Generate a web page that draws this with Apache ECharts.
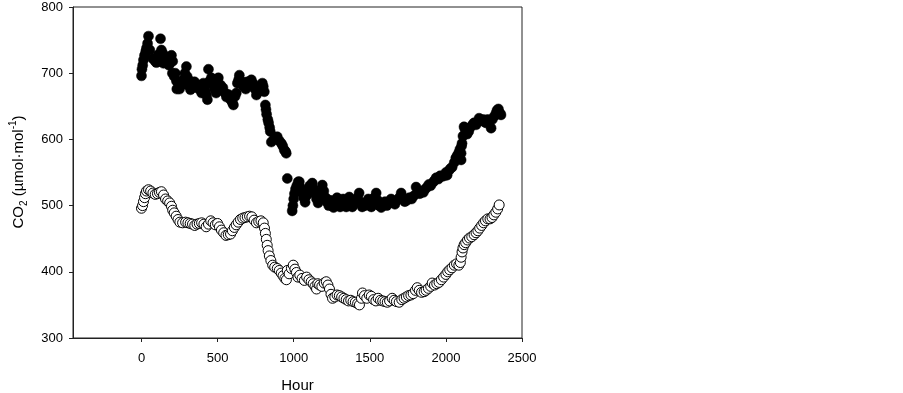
<!DOCTYPE html>
<html>
<head>
<meta charset="utf-8">
<script src="https://cdn.jsdelivr.net/npm/echarts@6/dist/echarts.min.js"></script>
<style>
  html, body { margin: 0; padding: 0; background: #fff; }
  #chart { width: 903px; height: 393px; }
</style>
</head>
<body>
<div id="chart"></div>
<script>
// tick labels
var xTicks = [0, 500, 1000, 1500, 2000, 2500];
var yTicks = [300, 400, 500, 600, 700, 800];

// filled circles [hour, CO2]
var filledPts = [
  [0,696],[3,706],[8,712],[13,720],[20,727],[28,733],[33,738],[40,745],[46,756],[55,735],
  [75,722],[90,718],[98,716],[110,728],[118,724],[125,752],[131,735],[140,730],[144,715],[155,725],
  [165,722],[180,712],[190,716],[197,727],[205,718],[203,700],[215,695],[222,700],[230,688],[232,676],
  [250,676],[262,682],[275,690],[285,700],[295,710],[300,695],[308,690],[315,680],[322,675],[335,684],
  [348,687],[360,678],[372,682],[385,675],[395,670],[407,685],[415,678],[420,672],[427,667],[433,660],
  [440,706],[448,688],[459,693],[470,683],[480,676],[490,670],[505,693],[512,675],[520,682],[535,678],
  [548,670],[558,664],[570,668],[585,660],[598,655],[604,652],[615,665],[623,670],[630,685],[638,690],
  [643,697],[655,688],[670,680],[685,676],[696,687],[708,685],[722,690],[735,684],[745,676],[755,667],
  [765,672],[782,678],[794,685],[800,680],[807,672],[814,652],[818,645],[822,638],[830,630],[835,625],
  [842,618],[846,612],[853,596],[870,600],[885,603],[892,604],[905,598],[919,594],[928,590],[938,584],
  [946,582],[951,579],[958,541],
  [990,492],[995,500],[1000,510],[1005,518],[1012,525],[1020,530],[1030,536],[1037,536],[1045,527],[1055,520],
  [1065,512],[1075,505],[1085,515],[1095,522],[1105,530],[1115,528],[1122,534],[1132,525],[1140,518],[1150,510],
  [1160,504],[1170,516],[1180,520],[1188,531],[1198,522],[1210,512],[1220,505],[1230,500],[1240,508],[1250,500],
  [1262,497],[1275,505],[1285,512],[1295,503],[1305,498],[1315,505],[1325,510],[1335,502],[1345,498],[1355,508],
  [1365,513],[1375,504],[1385,498],[1395,502],[1410,508],[1420,512],[1430,519],[1440,505],[1450,498],[1460,502],
  [1470,500],[1480,505],[1490,510],[1500,502],[1510,498],[1520,505],[1530,512],[1542,519],[1552,508],[1562,500],
  [1575,497],[1588,502],[1600,506],[1612,500],[1625,504],[1640,510],[1652,505],[1665,502],[1680,508],[1694,512],
  [1706,519],[1718,510],[1730,506],[1745,508],[1760,512],[1775,510],[1790,515],[1804,528],[1815,520],[1828,518],
  [1840,522],[1852,520],[1865,525],[1877,528],[1888,532],[1900,530],[1915,535],[1925,538],[1936,542],[1950,540],
  [1962,545],[1975,544],[1990,545],[2000,550],[2008,546],[2020,553],[2030,556],[2041,558],[2055,565],[2065,572],
  [2075,576],[2085,580],[2092,585],[2100,569],[2100,579],[2103,590],[2106,594],[2112,605],[2119,619],[2125,616],
  [2132,610],[2140,608],[2150,612],[2160,618],[2175,622],[2185,625],[2198,622],[2210,627],[2218,632],[2230,628],
  [2245,630],[2257,626],[2264,625],[2275,630],[2285,628],[2297,617],[2305,630],[2318,635],[2330,640],[2336,644],
  [2345,646],[2355,640],[2362,637]
];

// open circles [hour, CO2]
var openPts = [
  [0,496],[7,500],[13,506],[20,512],[26,518],[33,522],[46,524],[60,522],[75,519],[90,517],
  [105,518],[118,520],[131,521],[145,516],[158,510],[172,507],[185,504],[197,499],[205,493],[215,489],
  [228,484],[240,479],[252,475],[270,474],[290,475],[305,474],[320,473],[335,472],[350,470],[365,472],
  [380,473],[395,474],[410,472],[425,468],[440,472],[455,477],[470,474],[485,471],[500,473],[512,468],
  [525,463],[540,459],[555,455],[570,456],[585,457],[597,462],[610,467],[622,471],[635,475],[650,479],
  [665,481],[680,482],[695,483],[710,484],[725,483],[740,478],[755,474],[770,476],[785,477],[800,474],
  [808,466],[814,458],[820,449],[826,440],[832,432],[840,424],[850,417],[862,410],[875,407],[892,405],
  [905,402],[918,398],[930,394],[942,390],[952,388],[958,402],[970,397],[985,405],[997,410],[1008,404],
  [1018,399],[1028,392],[1040,395],[1055,390],[1070,387],[1085,392],[1100,388],[1115,385],[1128,382],[1140,378],
  [1150,374],[1158,382],[1170,380],[1185,378],[1200,383],[1214,385],[1225,380],[1235,374],[1245,366],[1255,360],
  [1270,362],[1285,365],[1300,364],[1315,362],[1330,360],[1345,358],[1360,356],[1375,357],[1390,355],[1405,354],
  [1420,352],[1432,350],[1445,360],[1452,368],[1465,364],[1480,360],[1496,365],[1510,363],[1525,358],[1540,356],
  [1555,360],[1570,357],[1585,356],[1600,355],[1615,354],[1630,356],[1647,360],[1660,357],[1675,355],[1693,354],
  [1710,358],[1725,360],[1740,362],[1755,364],[1770,365],[1785,367],[1800,372],[1812,376],[1825,372],[1840,369],
  [1857,370],[1870,372],[1885,375],[1900,378],[1910,383],[1925,380],[1940,382],[1955,384],[1970,388],[1985,392],
  [2000,396],[2012,400],[2025,403],[2040,406],[2055,410],[2070,412],[2085,410],[2095,414],[2100,422],[2106,430],
  [2112,436],[2120,441],[2130,444],[2142,448],[2155,451],[2170,453],[2185,456],[2198,459],[2210,462],[2222,466],
  [2235,470],[2248,474],[2260,477],[2275,480],[2290,480],[2303,482],[2315,486],[2328,490],[2340,495],[2350,501]
];

var myChart = echarts.init(document.getElementById('chart'));
var font = 'Liberation Sans';
var option = {
  animation: false,
  backgroundColor: '#fff',
  grid: {
    left: 73, top: 7, width: 449, height: 331,
    outerBoundsMode: 'none',
    containLabel: false,
    show: true, borderColor: '#222', borderWidth: 1, backgroundColor: 'transparent'
  },
  xAxis: {
    type: 'value',
    min: -450, max: 2500,
    name: 'Hour',
    nameLocation: 'middle',
    nameGap: 40,
    nameTextStyle: { fontFamily: font, fontSize: 15, color: '#000' },
    axisLine: { show: true, onZero: false, lineStyle: { color: '#222', width: 1 } },
    axisTick: { show: true, inside: false, length: 4, customValues: xTicks, lineStyle: { color: '#222' } },
    axisLabel: { customValues: xTicks, margin: 14, fontFamily: font, fontSize: 13, color: '#000',
      formatter: function (v) { return String(v); } },
    splitLine: { show: false }
  },
  yAxis: {
    type: 'value',
    min: 300, max: 800, interval: 100,
    axisLine: { show: true, onZero: false, lineStyle: { color: '#222', width: 1 } },
    axisTick: { show: true, inside: false, length: 4, lineStyle: { color: '#222' } },
    axisLabel: { margin: 10, fontFamily: font, fontSize: 13, color: '#000',
      formatter: function (v) { return yTicks.indexOf(v) >= 0 ? String(v) : ''; } },
    splitLine: { show: false }
  },
  graphic: [{
    type: 'text',
    x: 19, y: 172,
    rotation: Math.PI / 2,
    style: {
      text: '{a|CO}{s|2}{a| (µmol·mol}{p|-1}{a|)}',
      align: 'center',
      verticalAlign: 'middle',
      fill: '#000',
      fontFamily: font,
      rich: {
        a: { fontFamily: font, fontSize: 15, color: '#000', lineHeight: 21, verticalAlign: 'middle' },
        s: { fontFamily: font, fontSize: 10, color: '#000', lineHeight: 21, verticalAlign: 'bottom' },
        p: { fontFamily: font, fontSize: 10, color: '#000', lineHeight: 21, verticalAlign: 'top' }
      }
    }
  }],
  series: [{
    name: 'filled',
    type: 'scatter',
    symbol: 'circle',
    symbolSize: 10,
    itemStyle: { color: '#000', borderColor: '#000', borderWidth: 0.5, opacity: 1 },
    data: filledPts
  }, {
    name: 'open',
    type: 'scatter',
    symbol: 'circle',
    symbolSize: 10,
    itemStyle: { color: '#fff', borderColor: '#000', borderWidth: 1, opacity: 1 },
    data: openPts
  }]
};
myChart.setOption(option);
</script>
</body>
</html>
